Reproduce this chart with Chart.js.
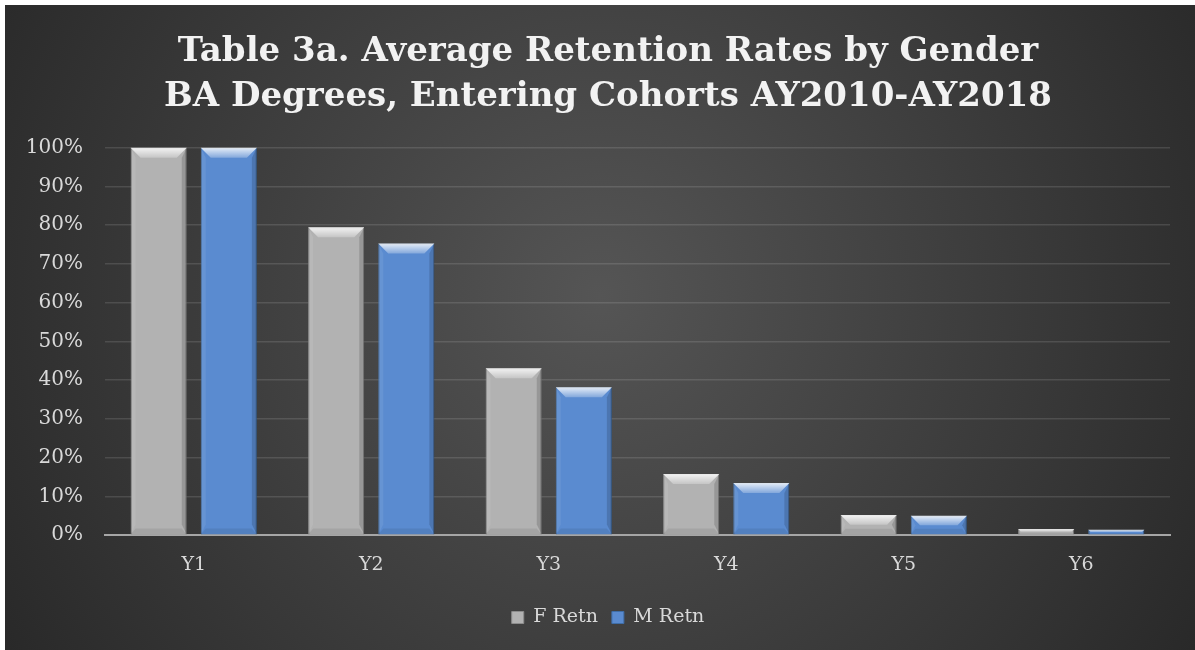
<!DOCTYPE html>
<html>
<head>
<meta charset="utf-8">
<script src="https://cdn.jsdelivr.net/npm/chart.js@4"></script>
<style>
  body { margin: 0; background: #fff; }
  #wrap { position: absolute; left: 5px; top: 5px; width: 1190px; height: 645px; }
</style>
</head>
<body>
<div id="wrap"><canvas id="myChart"></canvas></div>
<script>
// chart values
const years = ['Y1', 'Y2', 'Y3', 'Y4', 'Y5', 'Y6']
const fRetn = [1.00, 0.795, 0.431, 0.158, 0.052, 0.016]
const mRetn = [1.00, 0.753, 0.382, 0.135, 0.050, 0.014]
const titleLines = ['Table 3a. Average Retention Rates by Gender', 'BA Degrees, Entering Cohorts AY2010-AY2018']

const serif = "'DejaVu Serif', 'Liberation Serif', serif"

// dark radial background like the excel style
const bgPlugin = {
    id: 'bg',
    beforeDraw(chart) {
        const c = chart.ctx
        const w = chart.width, h = chart.height
        const g = c.createRadialGradient(w / 2, h * 0.45, 0, w / 2, h * 0.45, w * 0.62)
        g.addColorStop(0, '#555555')
        g.addColorStop(1, '#262626')
        c.save()
        c.fillStyle = g
        c.fillRect(0, 0, w, h)
        c.restore()
    }
}

// bevel on each bar, using the bar elements the library laid out
const bevelPlugin = {
    id: 'bevel',
    afterDatasetsDraw(chart) {
        const c = chart.ctx
        chart.data.datasets.forEach((ds, i) => {
            const meta = chart.getDatasetMeta(i)
            meta.data.forEach(bar => {
                const p = bar.getProps(['x', 'y', 'base', 'width'], true)
                const x0 = p.x - p.width / 2, x1 = p.x + p.width / 2
                const top = p.y, bot = p.base
                const b = Math.min(10, (bot - top) / 2)
                c.save()
                // top face
                const tg = c.createLinearGradient(0, top, 0, top + b)
                tg.addColorStop(0, 'rgba(255,255,255,0.85)')
                tg.addColorStop(1, 'rgba(255,255,255,0.25)')
                c.fillStyle = tg
                c.beginPath()
                c.moveTo(x0, top); c.lineTo(x1, top); c.lineTo(x1 - b, top + b); c.lineTo(x0 + b, top + b)
                c.fill()
                // left face
                c.fillStyle = 'rgba(255,255,255,0.08)'
                c.beginPath()
                c.moveTo(x0, top); c.lineTo(x0 + b * 0.5, top + b); c.lineTo(x0 + b * 0.5, bot - b); c.lineTo(x0, bot)
                c.fill()
                // right face
                c.fillStyle = 'rgba(0,0,0,0.15)'
                c.beginPath()
                c.moveTo(x1, top); c.lineTo(x1 - b * 0.5, top + b); c.lineTo(x1 - b * 0.5, bot - b); c.lineTo(x1, bot)
                c.fill()
                // bottom face
                c.fillStyle = 'rgba(0,0,0,0.08)'
                c.beginPath()
                c.moveTo(x0, bot); c.lineTo(x0 + b * 0.5, bot - b * 0.6); c.lineTo(x1 - b * 0.5, bot - b * 0.6); c.lineTo(x1, bot)
                c.fill()
                c.restore()
            })
        })
    }
}

const ctx = document.getElementById('myChart').getContext('2d')
const myChart = new Chart(ctx, {
    type: 'bar',
    data: {
        labels: years,
        datasets: [{
            label: 'F Retn',
            data: fRetn,
            backgroundColor: '#b2b2b2',
            borderColor: '#8c8c8c',
            borderWidth: 1,
            categoryPercentage: 0.79,
            barPercentage: 0.8
        }, {
            label: 'M Retn',
            data: mRetn,
            backgroundColor: '#5a8bd0',
            borderColor: '#3f6ea8',
            borderWidth: 1,
            categoryPercentage: 0.79,
            barPercentage: 0.8
        }]
    },
    options: {
        responsive: true,
        maintainAspectRatio: false,
        animation: false,
        layout: { padding: { left: 16, right: 0, top: 0, bottom: 13 } },
        plugins: {
            title: {
                display: true,
                text: titleLines,
                color: '#f2f2f2',
                font: { family: serif, size: 34, weight: 'bold', lineHeight: 1.32 },
                padding: { top: 25, bottom: 28 }
            },
            legend: {
                position: 'bottom',
                labels: {
                    color: '#d9d9d9',
                    font: { family: serif, size: 19 },
                    boxWidth: 12,
                    boxHeight: 12,
                    padding: 14
                }
            },
            tooltip: { enabled: false }
        },
        scales: {
            x: {
                grid: { display: false, drawTicks: false },
                border: { color: '#a6a6a6', width: 2 },
                ticks: { color: '#d9d9d9', font: { family: serif, size: 19 }, padding: 18 }
            },
            y: {
                min: 0,
                max: 1,
                border: { display: false },
                grid: { color: 'rgba(255,255,255,0.12)', lineWidth: 1.5, drawTicks: false },
                ticks: {
                    stepSize: 0.1,
                    color: '#d9d9d9',
                    font: { family: serif, size: 20 },
                    padding: 22,
                    callback: v => Math.round(v * 100) + '%'
                },
                afterFit: s => { s.width = 84 }
            },
            // empty right margin so the legend sits where it does in the original
            spacer: {
                type: 'linear',
                position: 'right',
                grid: { display: false, drawTicks: false },
                border: { display: false },
                ticks: { display: false },
                afterFit: s => { s.width = 25 }
            }
        }
    },
    plugins: [bgPlugin, bevelPlugin]
})
</script>
</body>
</html>
